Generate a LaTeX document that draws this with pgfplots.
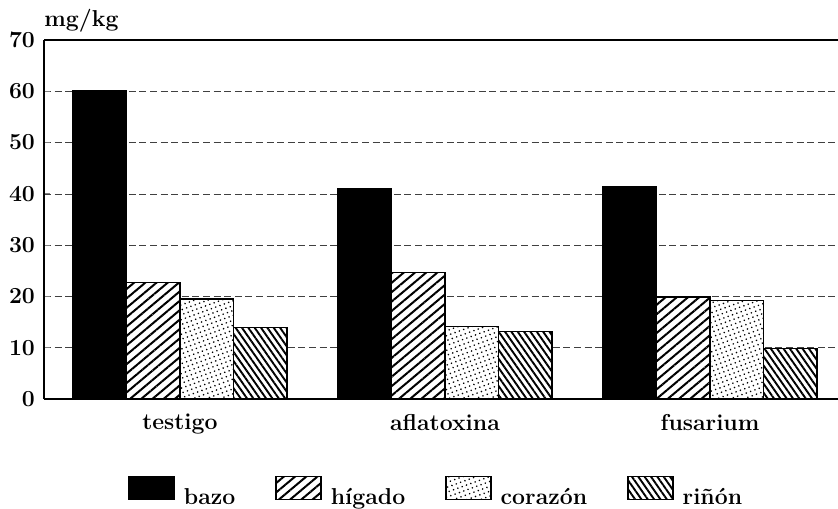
\documentclass[border=0pt]{standalone}
\usepackage{pgfplots}
\pgfplotsset{compat=1.18}
\usetikzlibrary{patterns,patterns.meta}
\begin{document}
\begin{tikzpicture}
\path[use as bounding box] (0,0) rectangle (419pt,254pt);
\begin{axis}[
  at={(22pt,54.5pt)}, anchor=south west,
  scale only axis, width=397pt, height=179.5pt,
  clip=false,
  xmin=-0.513, xmax=2.483, ymin=0, ymax=70,
  ytick={0,10,...,70},
  xtick={0,1,2}, xticklabels={testigo,aflatoxina,fusarium},
  axis x line*=bottom, axis y line*=left,
  axis line style={line width=0.7pt},
  x tick style={draw=none},
  y tick style={line width=0.5pt},
  tick align=inside, major tick length=3pt,
  ymajorgrids,
  major grid style={black!75, line width=0.35pt, dash pattern=on 3.5pt off 1.8pt},
  /pgf/number format/assume math mode=true,
  tick label style={font=\fontsize{11.5}{14}\selectfont\bfseries},
  yticklabel style={xshift=-1pt},
  xticklabel style={yshift=-1pt},
  ybar, bar width=0.202,
  legend columns=4,
  legend style={draw=none, fill=none, inner sep=0pt, at={(0.1058,-0.2577)}, anchor=west,
    font=\fontsize{11.5}{14}\selectfont\bfseries,
    nodes={inner sep=0pt},
    /tikz/every odd column/.append style={column sep=4.5pt},
    /tikz/every even column/.append style={column sep=20pt}},
  legend image code/.code={\draw[#1] (0pt,-1pt) rectangle (22.5pt,10.5pt);},
]
\addplot[draw=black, line width=0.75pt, fill=black, bar shift=-0.303] coordinates {(0,60.1) (1,41.0) (2,41.3)};
\addplot[draw=black, line width=0.75pt, fill=white, postaction={pattern={Lines[angle=40,distance=3.6pt,line width=1pt]}}, bar shift=-0.101] coordinates {(0,22.7) (1,24.7) (2,19.9)};
\addplot[draw=black, line width=0.75pt, fill=white, postaction={pattern={Dots[distance=2.3pt,radius=0.45pt,angle=20]}}, bar shift=0.101] coordinates {(0,19.5) (1,14.1) (2,19.2)};
\addplot[draw=black, line width=0.75pt, fill=white, postaction={pattern={Lines[angle=-55,distance=2.6pt,line width=0.95pt]}}, bar shift=0.303] coordinates {(0,13.9) (1,13.2) (2,9.8)};
\legend{bazo,hígado,corazón,riñón}
\draw[line width=0.7pt] (rel axis cs:0,1) -- (rel axis cs:1,1);
\node[anchor=base west, font=\fontsize{11.5}{14}\selectfont\bfseries, inner sep=0pt] at ([yshift=6.8pt]rel axis cs:0,1) {mg/kg};
\end{axis}
\end{tikzpicture}
\end{document}
